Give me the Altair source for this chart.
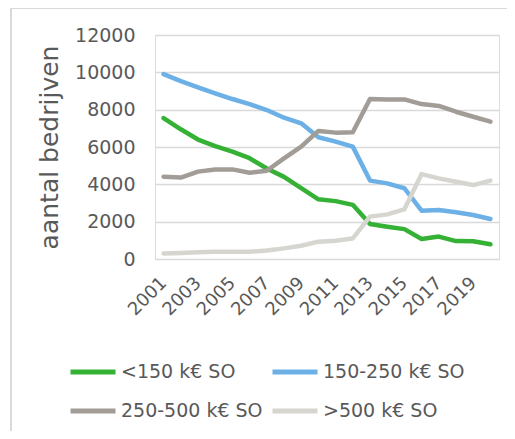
import altair as alt
import pandas as pd

years = list(range(2001, 2021))
lt150 = [7550, 6950, 6400, 6050, 5750, 5400, 4850, 4400, 3800, 3200, 3100, 2900, 1875, 1730, 1600, 1070, 1200, 960, 950, 790]
s150_250 = [9900, 9530, 9200, 8875, 8570, 8300, 7980, 7570, 7270, 6520, 6290, 6020, 4200, 4050, 3790, 2590, 2620, 2500, 2360, 2140]
s250_500 = [4410, 4360, 4680, 4800, 4800, 4620, 4730, 5390, 6020, 6860, 6770, 6790, 8570, 8550, 8550, 8300, 8200, 7890, 7620, 7360]
gt500 = [300, 320, 360, 390, 390, 390, 450, 570, 710, 930, 980, 1100, 2270, 2390, 2660, 4550, 4320, 4140, 3960, 4200]

series_names = ["<150 k€ SO", "150-250 k€ SO", "250-500 k€ SO", ">500 k€ SO"]
series_values = [lt150, s150_250, s250_500, gt500]
colors = ["#35b135", "#6cb0e6", "#a29c97", "#d7d5cf"]
tick_years = list(range(2001, 2020, 2))

rows = []
for name, vals in zip(series_names, series_values):
    for y, v in zip(years, vals):
        rows.append({"jaar": y, "reeks": name, "aantal": v})
df = pd.DataFrame(rows)

FONT = "DejaVu Sans"
TXT = "#595959"

lines = alt.Chart(df).mark_line(strokeWidth=4.5, strokeCap="round", strokeJoin="round").encode(
    x=alt.X("jaar:Q",
            scale=alt.Scale(domain=[2000.5, 2020.5], nice=False, zero=False),
            axis=alt.Axis(values=tick_years, format="d", labelAngle=-45, labelAlign="right",
                          labelBaseline="middle", labelPadding=21, labelFontSize=18,
                          labelColor=TXT, labelFont=FONT, domain=False, ticks=False,
                          grid=False, title=None, labelOverlap=False)),
    y=alt.Y("aantal:Q",
            scale=alt.Scale(domain=[0, 12000], nice=False),
            axis=alt.Axis(values=list(range(0, 12001, 2000)), format="d", labelFontSize=19,
                          labelColor=TXT, labelFont=FONT, labelPadding=20, domain=False,
                          ticks=False, gridColor="#d9d9d9", gridWidth=1.5,
                          title="aantal bedrijven", titleFontSize=25, titleFont=FONT,
                          titleColor=TXT, titleFontWeight="normal", titlePadding=12)),
    color=alt.Color("reeks:N",
                    scale=alt.Scale(domain=series_names, range=colors),
                    legend=alt.Legend(title=None, orient="none", legendX=-87, legendY=312,
                                      direction="horizontal",
                                      columns=2, columnPadding=-1, rowPadding=4,
                                      symbolType="stroke", symbolSize=2025,
                                      symbolStrokeWidth=5, labelFontSize=19,
                                      labelFont=FONT, labelColor=TXT, labelOffset=3)),
)

border = alt.Chart(pd.DataFrame({"k": [0]})).mark_rect(
    fill=None, stroke="#d9d9d9", strokeWidth=2, clip=False
).encode(
    x=alt.value(-144), x2=alt.value(420), y=alt.value(-27), y2=alt.value(440)
)

chart = alt.layer(border, lines).properties(
    width=344, height=224,
    autosize=alt.AutoSizeParams(type="none"),
    padding={"left": 147, "top": 27, "right": 8, "bottom": 172},
).configure_view(stroke=None).configure(background="white")

chart.save("out.html", embed_options={"renderer": "svg", "actions": False})
